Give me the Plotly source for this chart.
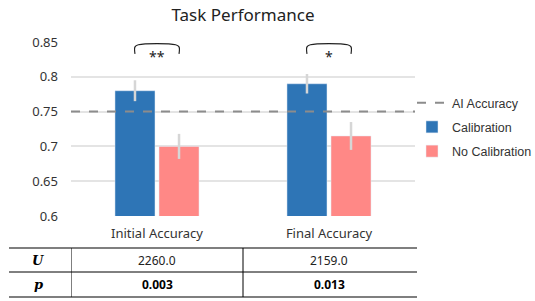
import plotly.graph_objects as go

# ---------------- data ----------------
categories = ["Initial Accuracy", "Final Accuracy"]
calibration = [0.78, 0.79]
calibration_err = [0.015, 0.014]
no_calibration = [0.70, 0.715]
no_calibration_err = [0.018, 0.020]
ai_accuracy = 0.75
significance = ["**", "*"]
row_labels = ["U", "p"]
u_values = ["2260.0", "2159.0"]
p_values = ["0.003", "0.013"]
y_ticks = [0.6, 0.65, 0.7, 0.75, 0.8, 0.85]
y_tick_labels = ["0.6", "0.65", "0.7", "0.75", "0.8", "0.85"]

# ---------------- style / layout ----------------
W, H = 535, 301
L, R, T, B = 71, 120, 42, 85
PW, PH = W - L - R, H - T - B
FONT = "Noto Sans, Arial, sans-serif"
LEGFONT = "Liberation Sans, Arial, sans-serif"
BLUE = "#2E75B6"
PINK = "#FF8886"
ERR = "#D6D6D6"
BARGAP = 0.488
GROUPGAP = 0.0909
slot = (1 - BARGAP) / 2          # width of one bar slot in category units
bracket_top = 0.846
bracket_bottom = 0.833


def px_x(p):
    return (p - L) / PW


def px_y(p):
    return (T + PH - p) / PH


fig = go.Figure()
fig.add_trace(go.Scatter(
    x=[0, 1], y=[ai_accuracy, ai_accuracy], xaxis="x2", mode="lines",
    line=dict(color="#8C8C8C", width=2, dash="dash"), name="AI Accuracy",
    legendgroup="a", hoverinfo="skip"))
fig.add_trace(go.Bar(
    x=categories, y=calibration, name="Calibration", marker_color=BLUE,
    legendgroup="b",
    error_y=dict(type="data", array=calibration_err, color=ERR, thickness=2.5, width=0)))
fig.add_trace(go.Bar(
    x=categories, y=no_calibration, name="No Calibration", marker_color=PINK,
    legendgroup="c",
    error_y=dict(type="data", array=no_calibration_err, color=ERR, thickness=2.5, width=0)))

# significance brackets (between bar centres)
for i, sig in enumerate(significance):
    a, b = i - slot / 2, i + slot / 2
    r = 0.02
    fig.add_trace(go.Scatter(
        x=[a, a, a + r, b - r, b, b],
        y=[bracket_bottom, bracket_top - 0.003, bracket_top, bracket_top, bracket_top - 0.003, bracket_bottom],
        xaxis="x3", mode="lines", line=dict(color="#222", width=1.2, shape="spline"),
        showlegend=False, hoverinfo="skip"))
    fig.add_annotation(x=i, xref="x3", y=bracket_bottom, yref="y", text=sig,
                       showarrow=False, xanchor="center", yanchor="middle", yshift=-3,
                       font=dict(size=14, color="#222", family=FONT))

fig.update_layout(
    width=W, height=H,
    margin=dict(l=L, r=R, t=T, b=B, autoexpand=False),
    paper_bgcolor="white", plot_bgcolor="white",
    barmode="group", bargap=BARGAP, bargroupgap=GROUPGAP,
    title=dict(text="Task Performance", x=px_x(243), xref="paper", xanchor="center",
               y=1 - 15 / H, yanchor="middle",
               font=dict(size=17, color="#222", family=FONT)),
    font=dict(family=FONT, color="#333", size=13),
    xaxis=dict(range=[-0.5, 1.5], showgrid=False, showline=False, zeroline=False,
               ticks="", ticklabelstandoff=8, tickfont=dict(size=13, color="#333")),
    xaxis2=dict(overlaying="x", range=[0, 1], visible=False),
    xaxis3=dict(overlaying="x", range=[-0.5, 1.5], visible=False),
    yaxis=dict(range=[0.6, 0.85], tickvals=y_ticks, ticktext=y_tick_labels,
               showgrid=True, gridcolor="#E4E4E4", gridwidth=1.5,
               zeroline=False, showline=False, ticks="", ticklabelstandoff=12,
               tickfont=dict(size=13, color="#333")),
    legend=dict(x=px_x(412), xref="paper", y=px_y(88), yanchor="top",
                traceorder="grouped", tracegroupgap=5,
                font=dict(size=12.5, color="#333", family=LEGFONT),
                bgcolor="rgba(0,0,0,0)"),
    showlegend=True,
)

# ---------------- table ----------------
t_top, t_mid, t_bot = 248, 272, 297
t_left, t_right = 9, 417
shapes = []
shapes.append(dict(type="line", xref="paper", yref="paper", x0=px_x(t_left), x1=px_x(t_right),
                   y0=px_y(t_top), y1=px_y(t_top), line=dict(color="#7F7F7F", width=2)))
shapes.append(dict(type="line", xref="paper", yref="paper", x0=px_x(t_left), x1=px_x(t_right),
                   y0=px_y(t_mid), y1=px_y(t_mid), line=dict(color="#000", width=1)))
shapes.append(dict(type="line", xref="paper", yref="paper", x0=px_x(t_left), x1=px_x(t_right),
                   y0=px_y(t_bot), y1=px_y(t_bot), line=dict(color="#7F7F7F", width=2)))
for xv in [-0.5, 0.5]:
    shapes.append(dict(type="line", xref="x3", yref="paper", x0=xv, x1=xv,
                       y0=px_y(t_top), y1=px_y(t_bot), line=dict(color="#000", width=1)))
fig.update_layout(shapes=shapes)

row_y = [(t_top + t_mid) / 2, (t_mid + t_bot) / 2]
for lab, yy in zip(row_labels, row_y):
    fig.add_annotation(x=px_x(38), xref="paper", y=px_y(yy), yref="paper",
                       text=f"<b><i>{lab}</i></b>", showarrow=False,
                       xanchor="center", yanchor="middle",
                       font=dict(size=13, color="#000", family="DejaVu Serif, serif"))
for i in range(len(categories)):
    fig.add_annotation(x=i, xref="x3", y=px_y(row_y[0]), yref="paper", text=u_values[i],
                       showarrow=False, xanchor="center", yanchor="middle",
                       font=dict(size=12, color="#222", family=FONT))
    fig.add_annotation(x=i, xref="x3", y=px_y(row_y[1]), yref="paper", text=f"<b>{p_values[i]}</b>",
                       showarrow=False, xanchor="center", yanchor="middle",
                       font=dict(size=12, color="#000", family=FONT))

fig.write_html("out.html", config={"displayModeBar": False},
               post_script="document.body.style.margin='0';")
